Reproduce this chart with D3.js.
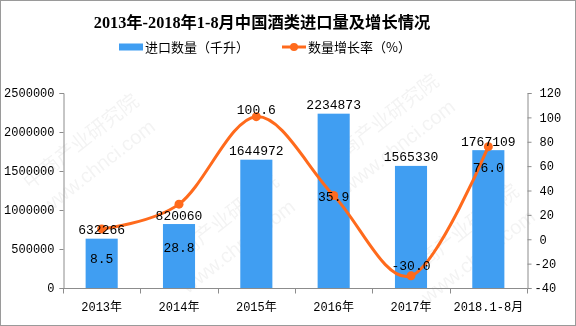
<!DOCTYPE html>
<html>
<head>
<meta charset="utf-8">
<script src="https://cdn.jsdelivr.net/npm/d3@7"></script>
<style>
  html, body { margin: 0; padding: 0; background: #fff; }
  svg { display: block; }
</style>
</head>
<body>
<svg id="chart" width="576" height="326"></svg>
<script>
// Wine imports into China, 2013 to Jan-Aug 2018
const categories = ["2013年", "2014年", "2015年", "2016年", "2017年", "2018.1-8月"];
const importVolume = [632266, 820060, 1644972, 2234873, 1565330, 1767109]; // thousand litres
const growthRate = [8.5, 28.8, 100.6, 35.9, -30.0, 76.0];                  // %
const leftTicks = [0, 500000, 1000000, 1500000, 2000000, 2500000];
const rightTicks = [-40, -20, 0, 20, 40, 60, 80, 100, 120];

const titleText = "2013年-2018年1-8月中国酒类进口量及增长情况";
const barLegend = "进口数量（千升）";
const lineLegend = "数量增长率（%）";

// vertical nudges for the growth-rate labels so they clear the curve and bars
const rateLabelDy = [30, 43, -7, 1, -10, 21];

const W = 576, H = 326;
const plot = { left: 63, right: 527, top: 93, bottom: 288 };
const BLUE = "#409ef2", ORANGE = "#ff6a1c", AXIS = "#8c8c8c";
const MONO = "'Liberation Mono', 'DejaVu Sans Mono', 'Noto Sans CJK SC', monospace";

const svg = d3.select("#chart");

// faint watermark
const wm = svg.append("g").attr("fill", "#000").attr("opacity", 0.05)
  .attr("font-family", "'Noto Sans CJK SC', sans-serif").attr("font-size", 20);
[[30, 190], [170, 270], [330, 170], [410, 280]].forEach(([x, y]) => {
  wm.append("text").attr("transform", `translate(${x},${y}) rotate(-38)`).text("中商产业研究院");
  wm.append("text").attr("transform", `translate(${x + 18},${y + 24}) rotate(-38)`)
    .attr("font-family", "'Liberation Sans', sans-serif").text("www.chnci.com");
});

const x = d3.scaleBand().domain(categories).range([plot.left, plot.right]).padding(0);
const yLeft = d3.scaleLinear().domain([0, 2500000]).range([plot.bottom, plot.top]);
const yRight = d3.scaleLinear().domain([-40, 120]).range([plot.bottom, plot.top]);
const barW = x.bandwidth() * 0.415;
const cx = d => x(d) + x.bandwidth() / 2;

// bars
svg.append("g").selectAll("rect").data(categories).join("rect")
  .attr("x", (d) => cx(d) - barW / 2)
  .attr("y", (d, i) => yLeft(importVolume[i]))
  .attr("width", barW)
  .attr("height", (d, i) => plot.bottom - yLeft(importVolume[i]))
  .attr("fill", BLUE);

// left axis
const gL = svg.append("g").attr("transform", `translate(${plot.left + 0.5},0)`)
  .call(d3.axisLeft(yLeft).tickValues(leftTicks).tickFormat(d3.format("d")).tickSize(4).tickPadding(5));
// right axis
const gR = svg.append("g").attr("transform", `translate(${plot.right + 0.5},0)`)
  .call(d3.axisRight(yRight).tickValues(rightTicks).tickFormat(d => d < 0 ? "-" + Math.abs(d) : d).tickSize(4).tickPadding(8));
gR.selectAll(".tick text").attr("dx", d => d < 0 ? -5 : 0);
// bottom axis with ticks at category boundaries
const gB = svg.append("g").attr("transform", `translate(0,${plot.bottom + 0.5})`)
  .call(d3.axisBottom(x).tickSize(0).tickPadding(12));
gB.selectAll(".tick text").attr("dy", "0.9em");
const bounds = categories.map(c => x(c)).concat([plot.right]);
gB.selectAll("line.sep").data(bounds).join("line").attr("class", "sep")
  .attr("x1", d => Math.round(d) + 0.5).attr("x2", d => Math.round(d) + 0.5)
  .attr("y1", 0).attr("y2", 5).attr("stroke", AXIS);

[gL, gR, gB].forEach(g => {
  g.selectAll("path.domain").attr("stroke", AXIS);
  g.selectAll(".tick line").attr("stroke", AXIS);
  g.selectAll(".tick text").attr("fill", "#000").attr("font-family", MONO).attr("font-size", 12);
});
gB.select("path.domain").attr("d", `M${plot.left},0H${plot.right + 0.5}`);

// growth-rate curve
const pts = categories.map((c, i) => [cx(c), yRight(growthRate[i])]);
svg.append("path").datum(pts)
  .attr("d", d3.line().curve(d3.curveCardinal.tension(0)))
  .attr("fill", "none").attr("stroke", ORANGE).attr("stroke-width", 3);
svg.append("g").selectAll("circle").data(pts).join("circle")
  .attr("cx", d => d[0]).attr("cy", d => d[1]).attr("r", 4.5).attr("fill", ORANGE);

// value labels
svg.append("g").selectAll("text").data(categories).join("text")
  .attr("x", d => cx(d))
  .attr("y", (d, i) => yLeft(importVolume[i]) - 9)
  .attr("dy", "0.35em")
  .attr("text-anchor", "middle").attr("font-family", MONO).attr("font-size", 13)
  .text((d, i) => importVolume[i]);
svg.append("g").selectAll("text").data(categories).join("text")
  .attr("x", d => cx(d))
  .attr("y", (d, i) => yRight(growthRate[i]) + rateLabelDy[i])
  .attr("dy", "0.35em")
  .attr("text-anchor", "middle").attr("font-family", MONO).attr("font-size", 13)
  .text((d, i) => growthRate[i].toFixed(1));

// title
svg.append("text").attr("x", 262).attr("y", 22).attr("dy", "0.35em")
  .attr("text-anchor", "middle")
  .attr("font-family", "'Liberation Serif', 'Noto Sans CJK SC', serif")
  .attr("font-weight", "bold").attr("font-size", 16.3)
  .text(titleText);

// legend
const lg = svg.append("g").attr("font-family", "'Noto Sans CJK SC', sans-serif").attr("font-size", 13);
lg.append("rect").attr("x", 119).attr("y", 43.5).attr("width", 24).attr("height", 7).attr("fill", BLUE);
lg.append("text").attr("x", 145).attr("y", 47).attr("dy", "0.35em").text(barLegend);
lg.append("line").attr("x1", 282).attr("x2", 306).attr("y1", 47).attr("y2", 47)
  .attr("stroke", ORANGE).attr("stroke-width", 3);
lg.append("circle").attr("cx", 294).attr("cy", 47).attr("r", 4).attr("fill", ORANGE);
lg.append("text").attr("x", 308).attr("y", 47).attr("dy", "0.35em").text(lineLegend);

// outer frame
svg.append("rect").attr("x", 0.5).attr("y", 0.5).attr("width", W - 1).attr("height", H - 1)
  .attr("fill", "none").attr("stroke", "#9a9a9a");
</script>
</body>
</html>
